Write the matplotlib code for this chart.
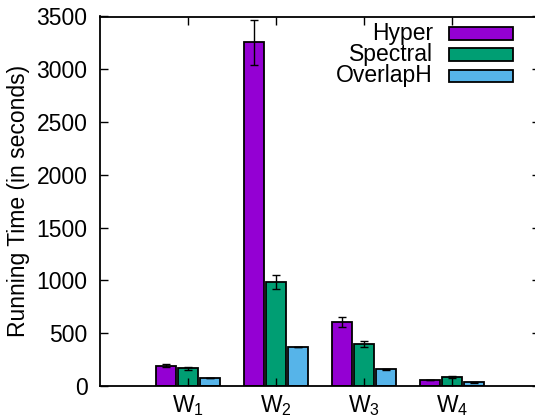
import numpy as np
import matplotlib
matplotlib.use('Agg')
import matplotlib.pyplot as plt
from matplotlib.patches import Rectangle

# dados
grupos = [r'W$_\mathrm{1}$', r'W$_\mathrm{2}$', r'W$_\mathrm{3}$', r'W$_\mathrm{4}$']
metodos = ['Hyper', 'Spectral', 'OverlapH']
cores = ['#9400D3', '#009E73', '#56B4E9']

hyper = [193, 3255, 607, 57]
hyper_err = [14, 210, 46, 4]
spectral = [168, 984, 396, 85]
spectral_err = [14, 68, 30, 7]
overlap = [76, 370, 158, 35]
overlap_err = [3, 4, 4, 2]

valores = [hyper, spectral, overlap]
erros = [hyper_err, spectral_err, overlap_err]

plt.rcParams['font.family'] = ['Liberation Sans', 'DejaVu Sans']
plt.rcParams['mathtext.fontset'] = 'custom'
plt.rcParams['mathtext.rm'] = 'Liberation Sans'
plt.rcParams['font.size'] = 16.5

fig = plt.figure(figsize=(5.35, 4.18), dpi=100)
ax = fig.add_axes([100/535, 32/418, 440/535, 369.5/418])

x = np.arange(len(grupos))
largura = 0.235
for i in range(3):
    ax.bar(x + (i - 1) * 0.25, valores[i], largura, color=cores[i],
           edgecolor='black', linewidth=1.3,
           yerr=erros[i], error_kw=dict(ecolor='black', elinewidth=1, capsize=3, capthick=1))

ax.set_xlim(-1, 4)
ax.set_ylim(0, 3500)
ax.set_yticks(np.arange(0, 3501, 500))
ax.set_xticks(x)
ax.set_xticklabels(grupos)
ax.tick_params(axis='both', direction='in', length=6, width=1, top=True, right=True)
ax.tick_params(axis='y', pad=9)
ax.tick_params(axis='x', pad=5)
for s in ax.spines.values():
    s.set_linewidth(1.3)

ax.set_ylabel('Running Time (in seconds)')
ax.yaxis.set_label_coords(-0.158, 0.5)

# legenda manual estilo gnuplot
for i, (nome, cor) in enumerate(zip(metodos, cores)):
    yc = 0.955 - i * 0.058
    ax.text(0.757, yc, nome, transform=ax.transAxes, ha='right', va='center')
    ax.add_patch(Rectangle((0.793, yc - 0.0175), 0.146, 0.035, transform=ax.transAxes,
                           facecolor=cor, edgecolor='black', linewidth=1.3, clip_on=False))

fig.savefig('out.png', dpi=100)
